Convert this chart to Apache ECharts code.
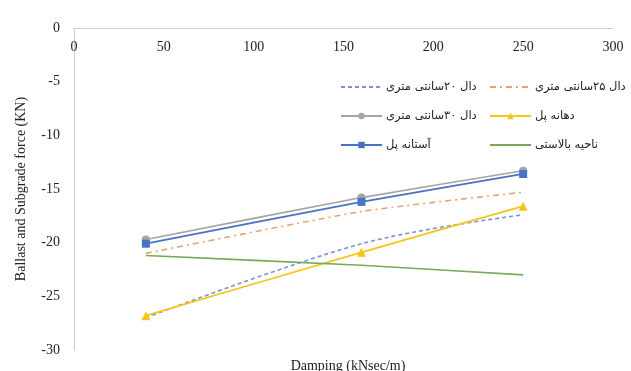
<!DOCTYPE html>
<html>
<head>
<meta charset="utf-8">
<script src="https://cdn.jsdelivr.net/npm/echarts@6/dist/echarts.min.js"></script>
<style>
  html, body { margin: 0; padding: 0; background: #fff; }
  #chart { width: 631px; height: 371px; }
</style>
</head>
<body>
<div id="chart"></div>
<script>
// Damping values (kNsec/m) at which the forces were computed
const dampings = [40, 160, 250];

// Ballast and subgrade force (KN) for each case
const slab20 = [-27.0, -20.1, -17.4];
const slab25 = [-21.0, -17.1, -15.3];
const slab30 = [-19.7, -15.8, -13.3];
const bridgeSpan = [-26.8, -20.9, -16.6];
const bridgeThreshold = [-20.1, -16.2, -13.6];
const ballastZone = [-21.2, -22.1, -23.0];

const xTicks = { min: 0, max: 300, step: 50 };
const yTicks = { min: -30, max: 0, step: 5 };

const names = {
  slab20: 'دال ۲۰سانتی متری',
  slab25: 'دال ۲۵سانتی متری',
  slab30: 'دال ۳۰سانتی متری',
  span: 'دهانه پل',
  threshold: 'آستانه پل',
  ballast: 'ناحیه بالاستی'
};

const pairs = vals => dampings.map((d, i) => [d, vals[i]]);
const serif = '"Liberation Serif", "DejaVu Serif", serif';
const legendFont = '"DejaVu Sans", "Noto Sans", sans-serif';

// plain line entries (no marker) in the legend
const lineOnly = name => ({ name, itemStyle: { opacity: 0 } });

const legendBase = {
  orient: 'vertical', top: 76, itemGap: 17, itemWidth: 41, itemHeight: 8,
  textStyle: { fontFamily: legendFont, fontSize: 11.5, color: '#222', padding: [0, 0, 0, -1] }
};

const chart = echarts.init(document.getElementById('chart'));
chart.setOption({
  backgroundColor: '#ffffff',
  animation: false,
  title: {
    text: 'Damping (kNsec/m)',
    left: 343,
    top: 354,
    textAlign: 'center',
    textStyle: { fontFamily: serif, fontSize: 14, fontWeight: 'normal', color: '#222' }
  },
  grid: { left: 74, right: 18, top: 28, bottom: 21 },
  legend: [
    Object.assign({}, legendBase, {
      left: 335,
      data: [lineOnly(names.slab20), names.slab30, names.threshold]
    }),
    Object.assign({}, legendBase, {
      left: 484,
      data: [lineOnly(names.slab25), names.span, lineOnly(names.ballast)]
    })
  ],
  xAxis: {
    type: 'value',
    position: 'top',
    min: xTicks.min, max: xTicks.max, interval: xTicks.step,
    axisLine: { show: true, onZero: false, lineStyle: { color: '#cfcfcf', width: 1 } },
    axisTick: { show: false },
    splitLine: { show: false },
    axisLabel: { inside: true, margin: 12, fontFamily: serif, fontSize: 14, color: '#222' }
  },
  yAxis: {
    type: 'value',
    min: yTicks.min, max: yTicks.max, interval: yTicks.step,
    name: 'Ballast and Subgrade force (KN)',
    nameLocation: 'middle',
    nameGap: 46,
    nameTextStyle: { fontFamily: serif, fontSize: 14, color: '#222' },
    axisLine: { show: true, lineStyle: { color: '#cfcfcf', width: 1 } },
    axisTick: { show: false },
    splitLine: { show: false },
    axisLabel: { margin: 14, fontFamily: serif, fontSize: 14, color: '#222' }
  },
  series: [
    {
      name: names.slab20, type: 'line', smooth: 0.35, data: pairs(slab20),
      symbol: 'none', color: '#7b93cf',
      lineStyle: { type: [4, 3], width: 1.6, color: '#7b93cf' }
    },
    {
      name: names.slab25, type: 'line', smooth: 0.2, data: pairs(slab25),
      symbol: 'none', color: '#e3a574',
      lineStyle: { type: [6, 4, 2, 4], width: 1.6, color: '#e3a574' }
    },
    {
      name: names.slab30, type: 'line', smooth: 0.15, data: pairs(slab30),
      symbol: 'circle', symbolSize: 8, color: '#a5a5a5',
      lineStyle: { width: 1.6, color: '#a5a5a5' }
    },
    {
      name: names.span, type: 'line', smooth: 0.2, data: pairs(bridgeSpan),
      symbol: 'triangle', symbolSize: 9, color: '#f5c518',
      lineStyle: { width: 1.8, color: '#f5c518' }
    },
    {
      name: names.threshold, type: 'line', smooth: 0.15, data: pairs(bridgeThreshold),
      symbol: 'rect', symbolSize: 8, color: '#4a72c2',
      lineStyle: { width: 1.8, color: '#4a72c2' }
    },
    {
      name: names.ballast, type: 'line', smooth: 0.1, data: pairs(ballastZone),
      symbol: 'none', color: '#78a85a',
      lineStyle: { width: 1.6, color: '#78a85a' }
    }
  ]
});
</script>
</body>
</html>
